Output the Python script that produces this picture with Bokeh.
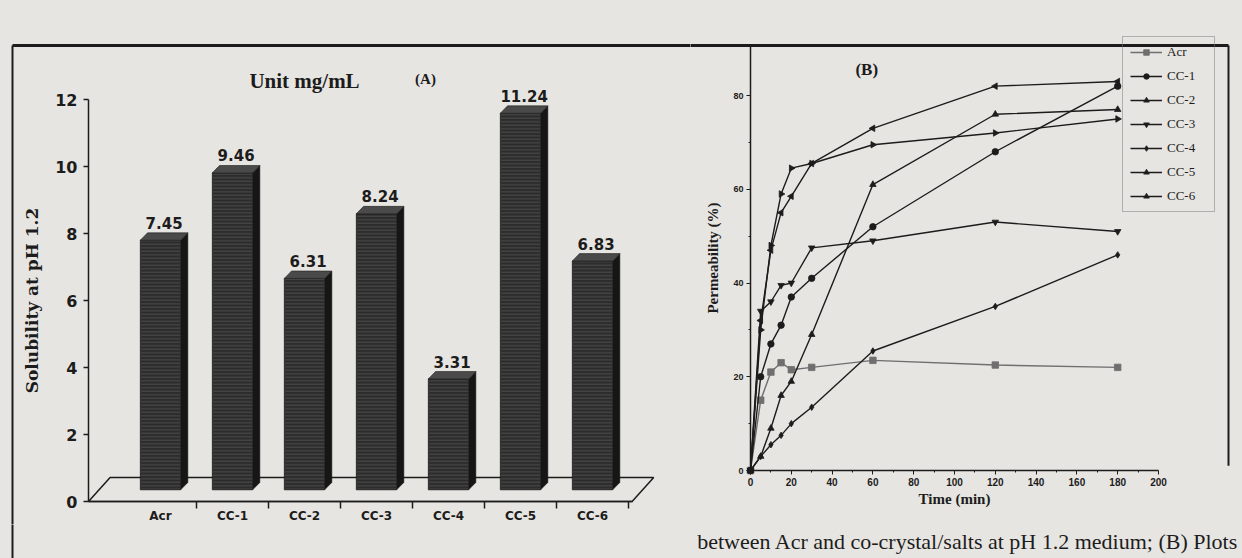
from math import pi

from bokeh.core.properties import value
from bokeh.embed import file_html
from bokeh.layouts import column, row
from bokeh.models import (ColumnDataSource, FixedTicker, Label, Legend,
                          LegendItem, LinearAxis, Range1d)
from bokeh.plotting import figure
from bokeh.resources import INLINE

# ---------------------------------------------------------------- data
# (A) solubility at pH 1.2, unit mg/mL
sol_categories = ["Acr", "CC-1", "CC-2", "CC-3", "CC-4", "CC-5", "CC-6"]
sol_values = [7.45, 9.46, 6.31, 8.24, 3.31, 11.24, 6.83]
sol_yticks = [0, 2, 4, 6, 8, 10, 12]

# (B) permeability (%) against time (min)
perm_time = [0, 5, 10, 15, 20, 30, 60, 120, 180]
perm_names = ["Acr", "CC-1", "CC-2", "CC-3", "CC-4", "CC-5", "CC-6"]
perm_acr = [0, 15, 21, 23, 21.5, 22, 23.5, 22.5, 22]
perm_cc1 = [0, 20, 27, 31, 37, 41, 52, 68, 82]
perm_cc2 = [0, 3, 9, 16, 19, 29, 61, 76, 77]
perm_cc3 = [0, 34, 36, 39.5, 40, 47.5, 49, 53, 51]
perm_cc4 = [0, 3, 5.5, 7.5, 10, 13.5, 25.5, 35, 46]
perm_cc5 = [0, 32, 47, 55, 58.5, 65.5, 73, 82, 83]
perm_cc6 = [0, 30, 48, 59, 64.5, 65.5, 69.5, 72, 75]
perm_xticks = [0, 20, 40, 60, 80, 100, 120, 140, 160, 180, 200]
perm_xminor = [10, 30, 50, 70, 90, 110, 130, 150, 170, 190]
perm_yticks = [0, 20, 40, 60, 80]
perm_yminor = [10, 30, 50, 70]

caption = "between Acr and co-crystal/salts at pH 1.2 medium; (B) Plots"

# ---------------------------------------------------------------- style
PAPER = "#e7e5e1"
INK = "#1c1c1c"
SERIF = "Liberation Serif"
BOOK = "DejaVu Serif"
SANS = "DejaVu Sans"
ARIAL = "Liberation Sans"

# page geometry, pixels
TOTAL_W = 1242
A_W = 690
B_W = TOTAL_W - A_W
TOP_H = 524
CAP_H = 34
FRAME_TOP = 45
FRAME_LEFT = 12
FRAME_RIGHT = 1228


def base_fig(width, height, xr, yr):
    p = figure(width=width, height=height, x_range=xr, y_range=yr,
               x_axis_type=None, y_axis_type=None, min_border=0,
               output_backend="svg", toolbar_location=None,
               background_fill_color=PAPER, border_fill_color=PAPER,
               outline_line_color=None)
    return p


# ================================================================ panel A
A_PX_X = 72.0          # pixels per category step
A_PX_Y = 33.5          # pixels per mg/mL
A_X0 = 88.0            # pixel column of x = 0
A_Y0 = 501.0           # pixel row of y = 0

ax_range = Range1d(-A_X0 / A_PX_X, (A_W - A_X0) / A_PX_X)
ay_range = Range1d(-(TOP_H - A_Y0) / A_PX_Y, A_Y0 / A_PX_Y)
pa = base_fig(A_W, TOP_H, ax_range, ay_range)

a_top = (A_Y0 - FRAME_TOP) / A_PX_Y
a_left = (FRAME_LEFT - A_X0) / A_PX_X

# page frame (the vertical rule runs past the bottom edge and is clipped)
pa.segment(x0=[a_left], y0=[a_top], x1=[ax_range.end + 1], y1=[a_top],
           line_color=INK, line_width=3)
pa.segment(x0=[a_left], y0=[ay_range.start - 1], x1=[a_left], y1=[a_top],
           line_color=INK, line_width=2)

pos = [i + 1 for i in range(len(sol_categories))]

# 3-D floor
FLOOR_END = pos[-1] + 0.55
FDX, FDY = 0.30, 0.72
pa.patch(x=[0, FLOOR_END, FLOOR_END + FDX, FDX], y=[0, 0, FDY, FDY],
         fill_color=None, line_color=INK, line_width=1.5)

# 3-D bars
LIFT = 0.35            # bars stand in the middle of the floor
BW = 0.56
DX, DY = 0.10, 0.22
left = [p - BW / 2 for p in pos]
right = [p + BW / 2 for p in pos]
tops = [v + LIFT for v in sol_values]

pa.patches(xs=[[r, r + DX, r + DX, r] for r in right],
           ys=[[LIFT, LIFT + DY, t + DY, t] for t in tops],
           fill_color="#161616", line_color="#161616", line_width=0.5)
pa.quad(left=left, right=right, bottom=[LIFT] * len(pos), top=tops,
        fill_color="#2c2c2c", line_color="#1e1e1e", line_width=0.8,
        hatch_pattern="horizontal_line", hatch_color="#4d4d4d",
        hatch_scale=3.5, hatch_weight=1)
pa.patches(xs=[[l, r, r + DX, l + DX] for l, r in zip(left, right)],
           ys=[[t, t, t + DY, t + DY] for t in tops],
           fill_color="#4a4a4a", line_color="#1e1e1e", line_width=0.6)

# value labels
lab_src = ColumnDataSource(dict(x=[p + DX / 2 for p in pos],
                                y=[t + DY + 0.12 for t in tops],
                                text=[f"{v:.2f}" for v in sol_values]))
pa.text(x="x", y="y", text="text", source=lab_src, text_align="center",
        text_baseline="bottom", text_font=value(SANS), text_font_style="bold",
        text_font_size="15px", text_color=INK)

# axes
ya = LinearAxis(fixed_location=0, bounds=(0, 12),
                ticker=FixedTicker(ticks=sol_yticks, minor_ticks=[]),
                axis_label="Solubility at pH 1.2",
                axis_label_text_font=BOOK, axis_label_text_font_style="bold",
                axis_label_text_font_size="17px", axis_label_text_color=INK,
                axis_label_standoff=10,
                major_label_text_font=SANS, major_label_text_font_style="bold",
                major_label_text_font_size="16px", major_label_text_color=INK,
                major_label_standoff=6, major_tick_out=5, major_tick_in=0,
                axis_line_width=1.5, axis_line_color=INK,
                major_tick_line_color=INK, major_tick_line_width=1.5)
pa.add_layout(ya, "left")

xa = LinearAxis(fixed_location=0, bounds=(0, FLOOR_END),
                ticker=FixedTicker(ticks=[p + 0.5 for p in pos], minor_ticks=[]),
                major_label_text_color=None, major_tick_out=7, major_tick_in=0,
                axis_line_width=1.5, axis_line_color=INK,
                major_tick_line_color=INK, major_tick_line_width=1.5)
pa.add_layout(xa, "below")

xl = LinearAxis(fixed_location=0,
                ticker=FixedTicker(ticks=pos, minor_ticks=[]),
                major_label_overrides={p: c for p, c in zip(pos, sol_categories)},
                axis_line_color=None, major_tick_line_color=None,
                major_tick_out=0, major_label_standoff=7,
                major_label_text_font=SANS, major_label_text_font_style="bold",
                major_label_text_font_size="12px", major_label_text_color=INK)
pa.add_layout(xl, "below")

pa.add_layout(Label(x=3.0, y=12.55, text="Unit mg/mL", text_align="center",
                    text_baseline="middle", text_font=SERIF,
                    text_font_style="bold", text_font_size="21px",
                    text_color=INK))
pa.add_layout(Label(x=4.68, y=12.6, text="(A)", text_align="center",
                    text_baseline="middle", text_font=SERIF,
                    text_font_style="bold", text_font_size="15px",
                    text_color=INK))

# ================================================================ panel B
B_X0 = 750.0 - A_W     # pixel column of t = 0 inside panel B
B_PX_X = 2.04          # pixels per minute
B_Y0 = 470.0           # pixel row of 0 %
B_PX_Y = 4.6875        # pixels per percent

bx_range = Range1d(-B_X0 / B_PX_X, (B_W - B_X0) / B_PX_X)
by_range = Range1d(-(TOP_H - B_Y0) / B_PX_Y, B_Y0 / B_PX_Y)
pb = base_fig(B_W, TOP_H, bx_range, by_range)

b_top = (B_Y0 - FRAME_TOP) / B_PX_Y
b_right = (FRAME_RIGHT - A_W - B_X0) / B_PX_X

pb.segment(x0=[bx_range.start - 1], y0=[b_top], x1=[b_right], y1=[b_top],
           line_color=INK, line_width=3)
pb.segment(x0=[b_right], y0=[b_top], x1=[b_right], y1=[1.0],
           line_color=INK, line_width=2)

series = [perm_acr, perm_cc1, perm_cc2, perm_cc3, perm_cc4, perm_cc5, perm_cc6]
markers = ["square", "circle", "triangle", "inverted_triangle", "diamond",
           "triangle", "triangle"]
angles = [0, 0, 0, 0, 0, pi / 2, -pi / 2]
colors = ["#6f6f6f", INK, INK, INK, INK, INK, INK]

items = []
for name, ys, mk, ang, col in zip(perm_names, series, markers, angles, colors):
    src = ColumnDataSource(dict(t=perm_time, v=ys))
    ln = pb.line(x="t", y="v", source=src, line_color=col, line_width=1.4)
    sc = pb.scatter(x="t", y="v", source=src, marker=mk, angle=ang, size=6.5,
                    fill_color=col, line_color=col, line_width=0.8)
    items.append(LegendItem(label=name, renderers=[ln, sc]))

legend = Legend(items=items, location=(1122 - A_W, TOP_H - 212),
                orientation="vertical",
                label_text_font=SERIF, label_text_font_size="13px",
                label_text_color=INK, label_height=16, label_width=40,
                label_standoff=5, glyph_width=32, glyph_height=14,
                spacing=8, padding=7, margin=0,
                border_line_color="#7a7a7a", border_line_width=1,
                background_fill_alpha=0)
pb.add_layout(legend)

yb = LinearAxis(fixed_location=0, bounds=(0, b_top),
                ticker=FixedTicker(ticks=perm_yticks, minor_ticks=perm_yminor),
                axis_label="Permeability (%)",
                axis_label_text_font=SERIF, axis_label_text_font_style="bold",
                axis_label_text_font_size="15px", axis_label_text_color=INK,
                axis_label_standoff=9,
                major_label_text_font=ARIAL, major_label_text_font_style="bold",
                major_label_text_font_size="9px", major_label_text_color=INK,
                major_label_standoff=3, major_tick_out=4, major_tick_in=0,
                minor_tick_out=2, minor_tick_in=0,
                axis_line_width=1.5, axis_line_color=INK,
                major_tick_line_color=INK, minor_tick_line_color=INK)
pb.add_layout(yb, "left")

xb = LinearAxis(fixed_location=0, bounds=(0, 200),
                ticker=FixedTicker(ticks=perm_xticks, minor_ticks=perm_xminor),
                axis_label="Time (min)",
                axis_label_text_font=SERIF, axis_label_text_font_style="bold",
                axis_label_text_font_size="15px", axis_label_text_color=INK,
                axis_label_standoff=2,
                major_label_text_font=ARIAL, major_label_text_font_style="bold",
                major_label_text_font_size="10px", major_label_text_color=INK,
                major_label_standoff=3, major_tick_out=4, major_tick_in=0,
                minor_tick_out=2, minor_tick_in=0,
                axis_line_width=1.5, axis_line_color=INK,
                major_tick_line_color=INK, minor_tick_line_color=INK)
pb.add_layout(xb, "below")

pb.add_layout(Label(x=57, y=85.5, text="(B)", text_align="center",
                    text_baseline="middle", text_font=SERIF,
                    text_font_style="bold", text_font_size="17px",
                    text_color=INK))

# ================================================================ caption
pc = base_fig(TOTAL_W, CAP_H, Range1d(0, TOTAL_W), Range1d(0, CAP_H))
pc.segment(x0=[FRAME_LEFT], y0=[-1], x1=[FRAME_LEFT], y1=[CAP_H + 1],
           line_color=INK, line_width=2)
pc.text(x=[TOTAL_W - 4], y=[CAP_H / 2], text=[caption], text_align="right",
        text_baseline="middle", text_font=value(SERIF),
        text_font_size="22px", text_color=INK)

page = column(row(pa, pb), pc)
html = file_html(page, INLINE)
html = html.replace(
    "</head>",
    f"<style>html, body {{ margin: 0; padding: 0; background: {PAPER}; }}</style></head>",
    1)
open("out.html", "w").write(html)
